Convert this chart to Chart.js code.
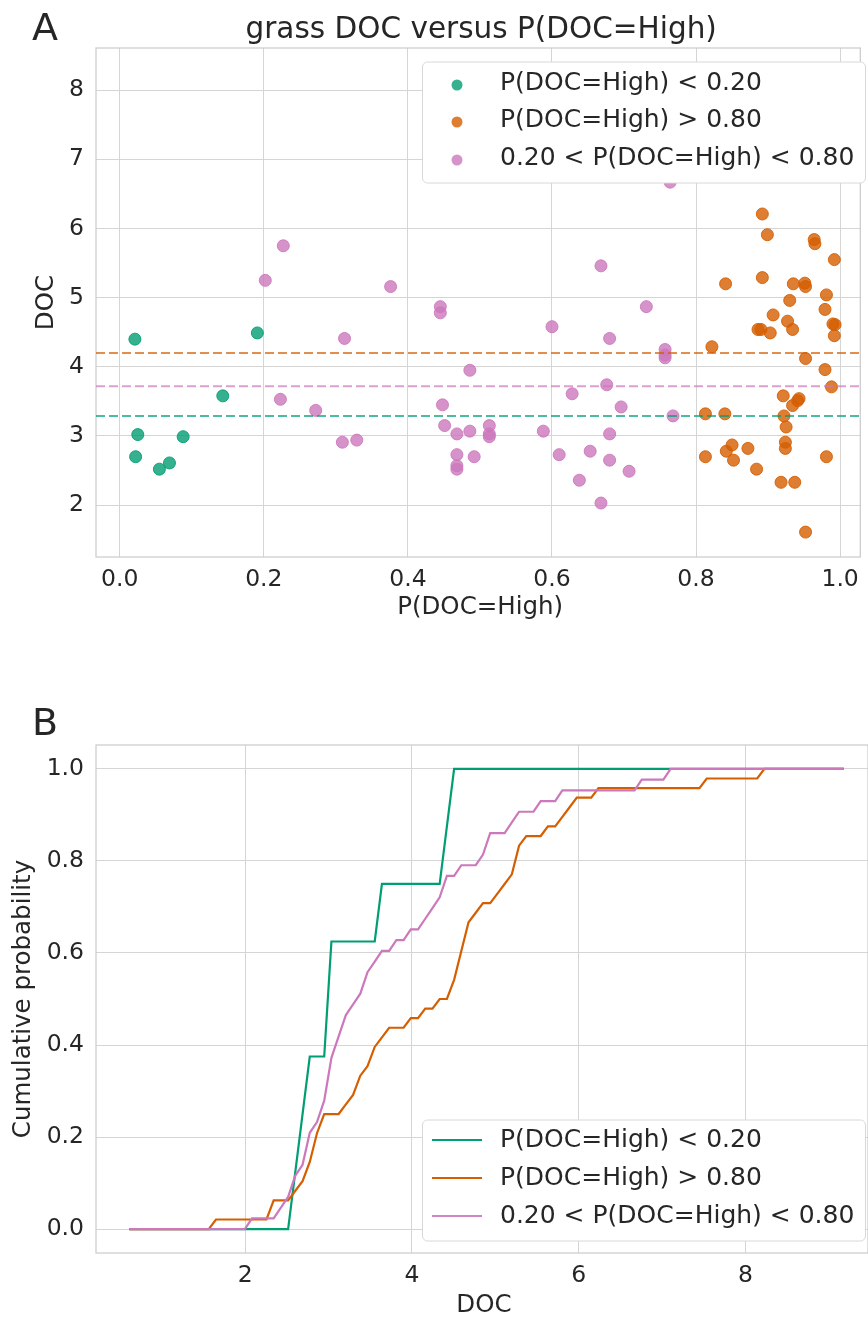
<!DOCTYPE html>
<html>
<head>
<meta charset="utf-8">
<script src="https://cdn.jsdelivr.net/npm/chart.js@4.4.0/dist/chart.umd.min.js"></script>
<style>
  body { margin: 0; background: #fff; }
  #wrap { position: relative; width: 868px; height: 1318px; background: #fff; }
  #panelA { position: absolute; left: 0; top: 0; }
  #panelB { position: absolute; left: 0; top: 650px; }
</style>
</head>
<body>
<div id="wrap">
  <canvas id="panelA" width="868" height="650"></canvas>
  <canvas id="panelB" width="868" height="668"></canvas>
</div>
<script>
// groups
const groupLabels = ['P(DOC=High) < 0.20', 'P(DOC=High) > 0.80', '0.20 < P(DOC=High) < 0.80'];
const groupColors = ['#029e73', '#d55e00', '#cc78bc'];

// P(DOC=High) < 0.20
const lowP   = [0.021, 0.191, 0.143, 0.025, 0.022, 0.055, 0.069, 0.088];
const lowDoc = [4.40, 4.49, 3.58, 3.02, 2.70, 2.52, 2.61, 2.99];

// P(DOC=High) > 0.80  (last two sit behind the legend, read from the CDF)
const highP = [0.892, 0.899, 0.964, 0.965, 0.992, 0.841, 0.892, 0.935, 0.951, 0.952,
  0.930, 0.981, 0.979, 0.907, 0.927, 0.934, 0.886, 0.890, 0.903, 0.990,
  0.993, 0.992, 0.822, 0.952, 0.979, 0.988, 0.921, 0.943, 0.941, 0.934,
  0.813, 0.840, 0.922, 0.925, 0.924, 0.924, 0.850, 0.842, 0.872, 0.813,
  0.852, 0.981, 0.884, 0.918, 0.937, 0.952, 0.905, 0.930];
const highDoc = [6.21, 5.91, 5.84, 5.78, 5.55, 5.20, 5.29, 5.20, 5.21, 5.16,
  4.96, 5.04, 4.83, 4.75, 4.66, 4.54, 4.54, 4.54, 4.49, 4.62,
  4.61, 4.45, 4.29, 4.12, 3.96, 3.71, 3.58, 3.54, 3.51, 3.44,
  3.32, 3.32, 3.29, 3.13, 2.91, 2.82, 2.87, 2.78, 2.82, 2.70,
  2.65, 2.70, 2.52, 2.33, 2.33, 1.61, 7.45, 8.18];

// 0.20 < P(DOC=High) < 0.80
const midP = [0.227, 0.202, 0.223, 0.376, 0.445, 0.445, 0.312, 0.486, 0.272, 0.448,
  0.451, 0.309, 0.329, 0.468, 0.486, 0.468, 0.492, 0.468, 0.468, 0.513,
  0.513, 0.513, 0.668, 0.731, 0.600, 0.680, 0.757, 0.757, 0.757, 0.676,
  0.628, 0.696, 0.768, 0.588, 0.680, 0.610, 0.653, 0.680, 0.707, 0.638,
  0.668, 0.764, 0.620];
const midDoc = [5.75, 5.25, 3.53, 5.16, 4.87, 4.78, 4.41, 3.95, 3.37, 3.45,
  3.15, 2.91, 2.94, 3.03, 3.07, 2.73, 2.70, 2.57, 2.52, 3.15,
  3.03, 2.99, 5.46, 4.87, 4.58, 4.41, 4.25, 4.17, 4.13, 3.74,
  3.61, 3.42, 3.29, 3.07, 3.03, 2.73, 2.78, 2.65, 2.49, 2.36,
  2.03, 6.67, 7.10];

// dashed group means (low, high, mid)
const meanDoc = [3.29, 4.20, 3.72];

// tick labels
const xTicksA = [0, 0.2, 0.4, 0.6, 0.8, 1.0];
const yTicksA = [2, 3, 4, 5, 6, 7, 8];
const xTicksB = [2, 4, 6, 8];
const yTicksB = [0, 0.2, 0.4, 0.6, 0.8, 1.0];

const textColor = '#262626';
const gridColor = '#d5d5d5';
const fontFam = '"DejaVu Sans", sans-serif';

function alpha(hex, a) {
  const n = parseInt(hex.slice(1), 16);
  return 'rgba(' + (n >> 16) + ',' + ((n >> 8) & 255) + ',' + (n & 255) + ',' + a + ')';
}

function pts(xs, ys) {
  return xs.map((x, i) => ({ x: x, y: ys[i] }));
}

// empirical CDF on an even grid from min-1 to max+1
const allDoc = lowDoc.concat(highDoc, midDoc);
const gridLo = Math.min(...allDoc) - 1;
const gridHi = Math.max(...allDoc) + 1;
const nGrid = 100;
const docGrid = [];
for (let i = 0; i < nGrid; i++) {
  docGrid.push(gridLo + (gridHi - gridLo) * i / (nGrid - 1));
}
function ecdf(values) {
  return docGrid.map(g => ({ x: g, y: values.filter(v => v <= g).length / values.length }));
}

// frame, texts and legend
const decor = {
  id: 'decor',
  beforeDatasetsDraw(chart) {
    const a = chart.chartArea, ctx = chart.ctx;
    ctx.save();
    ctx.strokeStyle = '#cccccc';
    ctx.lineWidth = 1.25;
    ctx.strokeRect(a.left, a.top, a.right - a.left, a.bottom - a.top);
    ctx.restore();
  },
  afterDraw(chart, args, o) {
    const a = chart.chartArea, ctx = chart.ctx;
    const cx = (a.left + a.right) / 2;
    ctx.save();
    ctx.fillStyle = textColor;
    ctx.textBaseline = 'alphabetic';
    ctx.textAlign = 'left';
    ctx.font = '38px ' + fontFam;
    ctx.fillText(o.letter, 32, o.letterY);

    ctx.textAlign = 'center';
    ctx.textBaseline = 'middle';
    if (o.title) {
      ctx.font = '29.5px ' + fontFam;
      ctx.fillText(o.title, cx + 3, 30);
    }
    ctx.font = '24.5px ' + fontFam;
    ctx.fillText(o.xLabel, cx + 2, o.xLabelY);
    ctx.translate(o.yLabelX, (a.top + a.bottom) / 2);
    ctx.rotate(-Math.PI / 2);
    ctx.fillText(o.yLabel, 0, 0);
    ctx.restore();

    // legend
    const L = o.legend;
    ctx.save();
    ctx.beginPath();
    ctx.roundRect(L.x, L.y, L.w, L.h, 5);
    ctx.fillStyle = '#ffffff';
    ctx.fill();
    ctx.strokeStyle = '#d8d8d8';
    ctx.lineWidth = 1;
    ctx.stroke();
    ctx.font = '25px ' + fontFam;
    ctx.textAlign = 'left';
    ctx.textBaseline = 'middle';
    groupLabels.forEach((lab, i) => {
      const y = L.rows[i];
      if (L.kind === 'point') {
        ctx.beginPath();
        ctx.arc(457, y + 2, 5.5, 0, Math.PI * 2);
        ctx.fillStyle = alpha(groupColors[i], 0.8);
        ctx.fill();
      } else {
        ctx.beginPath();
        ctx.moveTo(432, y);
        ctx.lineTo(482, y);
        ctx.strokeStyle = i === 2 ? alpha(groupColors[i], 0.9) : groupColors[i];
        ctx.lineWidth = 2.2;
        ctx.stroke();
      }
      ctx.fillStyle = textColor;
      ctx.fillText(lab, 500, y);
    });
    ctx.restore();
  }
};

function axis(min, max, ticks, fmt, fit, pad) {
  return {
    type: 'linear',
    min: min,
    max: max,
    afterBuildTicks: s => { s.ticks = ticks.map(v => ({ value: v })); },
    afterFit: fit,
    grid: { color: gridColor, lineWidth: 1, drawTicks: false },
    border: { display: false },
    ticks: {
      color: textColor,
      font: { family: fontFam, size: 23.5 },
      padding: pad,
      callback: fmt
    }
  };
}

const xMinA = -0.033, xMaxA = 1.028;

const scatterSets = [
  [lowP, lowDoc], [highP, highDoc], [midP, midDoc]
].map((g, i) => ({
  type: 'scatter',
  label: groupLabels[i],
  data: pts(g[0], g[1]),
  backgroundColor: alpha(groupColors[i], 0.8),
  borderColor: alpha(groupColors[i], 0.9),
  borderWidth: 1,
  pointRadius: 6,
  order: 2
}));

const meanSets = meanDoc.map((m, i) => ({
  type: 'line',
  label: 'mean ' + groupLabels[i],
  data: [{ x: xMinA, y: m }, { x: xMaxA, y: m }],
  borderColor: alpha(groupColors[i], 0.7),
  borderWidth: 2,
  borderDash: [9, 4],
  pointRadius: 0,
  order: 1
}));

new Chart(document.getElementById('panelA'), {
  type: 'scatter',
  data: { datasets: scatterSets.concat(meanSets) },
  plugins: [decor],
  options: {
    responsive: false,
    animation: false,
    devicePixelRatio: 1,
    layout: { padding: { top: 48, left: 0, right: 0, bottom: 0 } },
    scales: {
      x: axis(xMinA, xMaxA, xTicksA, v => v.toFixed(1), s => { s.height = 93; }, 9),
      y: axis(1.25, 8.61, yTicksA, v => String(v), s => { s.width = 96; }, 12)
    },
    plugins: {
      legend: { display: false },
      tooltip: { enabled: false },
      decor: {
        letter: 'A', letterY: 40,
        title: 'grass DOC versus P(DOC=High)',
        xLabel: 'P(DOC=High)', xLabelY: 608,
        yLabel: 'DOC', yLabelX: 47,
        legend: { kind: 'point', x: 422.5, y: 62, w: 443, h: 121, rows: [83, 120, 158] }
      }
    }
  }
});

const cdfSets = [lowDoc, highDoc, midDoc].map((vals, i) => ({
  label: groupLabels[i],
  data: ecdf(vals),
  borderColor: groupColors[i],
  borderWidth: 2.2,
  pointRadius: 0,
  tension: 0,
  order: 3 - i
}));

new Chart(document.getElementById('panelB'), {
  type: 'line',
  data: { datasets: cdfSets },
  plugins: [decor],
  options: {
    responsive: false,
    animation: false,
    devicePixelRatio: 1,
    layout: { padding: { top: 95, left: 0, right: 0, bottom: 0 } },
    scales: {
      x: axis(0.21, 9.47, xTicksB, v => String(v), s => { s.height = 65; }, 9),
      y: axis(-0.052, 1.052, yTicksB, v => v.toFixed(1), s => { s.width = 96; }, 12)
    },
    plugins: {
      legend: { display: false },
      tooltip: { enabled: false },
      decor: {
        letter: 'B', letterY: 85,
        xLabel: 'DOC', xLabelY: 656,
        yLabel: 'Cumulative probability', yLabelX: 24,
        legend: { kind: 'line', x: 422.5, y: 470, w: 443, h: 121, rows: [490, 528, 566] }
      }
    }
  }
});
</script>
</body>
</html>
